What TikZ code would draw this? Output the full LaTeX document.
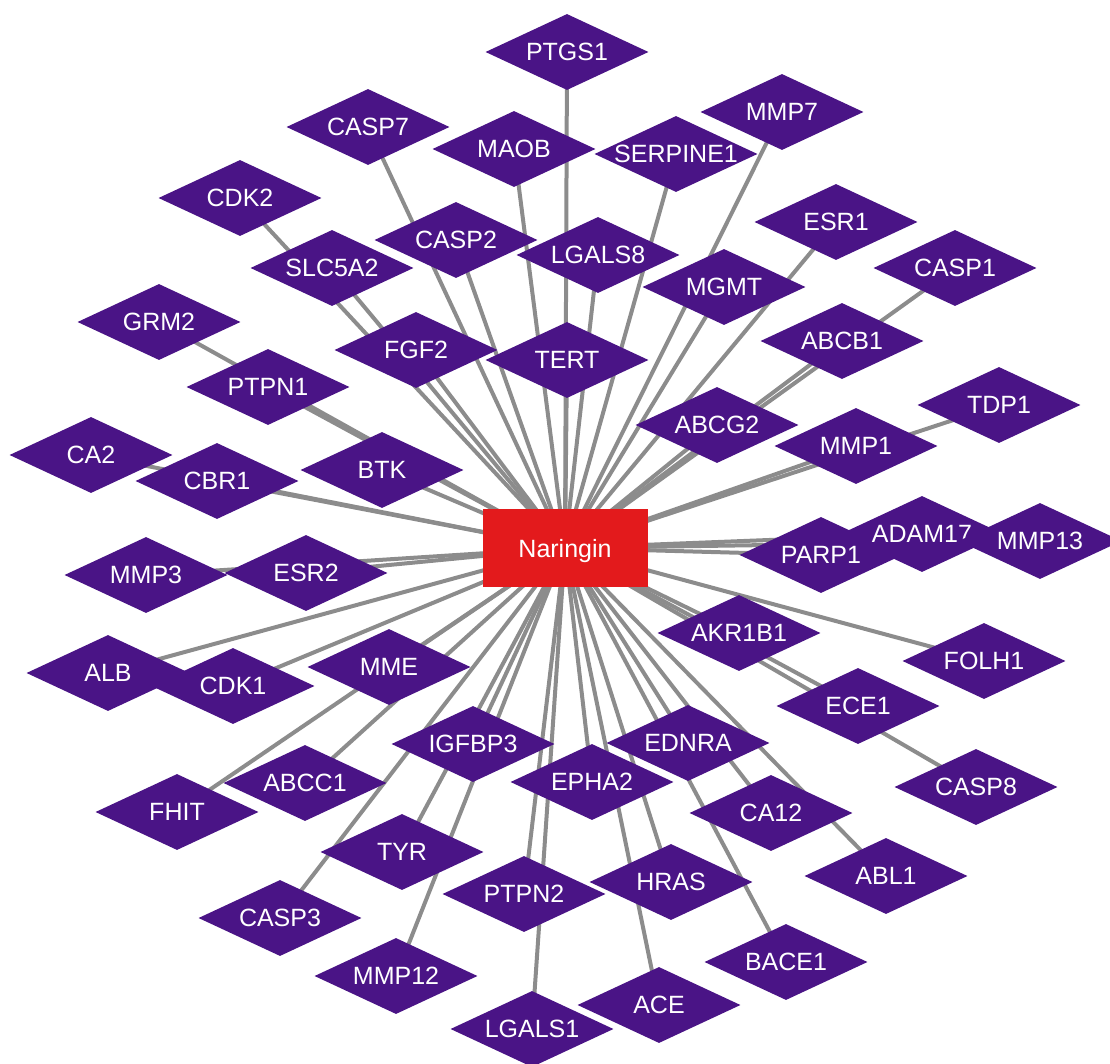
\documentclass[tikz,border=0pt]{standalone}
\usepackage{fontspec}
\setmainfont{Liberation Sans}
\usetikzlibrary{shapes.geometric}
\pgfdeclarelayer{background}
\pgfsetlayers{background,main}
\definecolor{genefill}{RGB}{74,20,134}
\definecolor{hubfill}{RGB}{227,26,28}
\definecolor{edgecol}{RGB}{140,140,140}
\tikzset{
  gene/.style={diamond, fill=genefill, draw=none, text=white, inner sep=0pt,
    aspect=2.14, minimum width=163pt, minimum height=76pt, text depth=0pt,
    font=\fontsize{25}{30}\selectfont},
  hub/.style={rectangle, fill=hubfill, draw=none, text=white, inner sep=0pt,
    minimum width=165pt, minimum height=78pt, text depth=0pt,
    font=\fontsize{25}{30}\selectfont},
  edge/.style={draw=edgecol, line width=4pt}
}
\begin{document}
\begin{tikzpicture}[x=1pt,y=-1pt]
\useasboundingbox (0,0) rectangle (1110,1064);
\node[hub] (nar) at (565,548) {Naringin};
\foreach \n/\x/\y in {
PTGS1/567/52, CASP7/368/127, MAOB/514/149, MMP7/782/112, SERPINE1/676/154,
CDK2/240/198, CASP2/456/240, LGALS8/598/255, ESR1/836/222, SLC5A2/332/268,
MGMT/724/287, CASP1/955/268, GRM2/159/322, FGF2/416/350, TERT/567/360,
ABCB1/842/341, PTPN1/268/387, TDP1/999/405, ABCG2/717/425, MMP1/856/446,
CA2/91/455, CBR1/217/481, BTK/382/470, PARP1/821/555, ADAM17/922/534,
MMP13/1040/541, MMP3/146/575, ESR2/306/573, AKR1B1/739/633, FOLH1/984/661,
ALB/108/673, CDK1/233/686, MME/389/667, ECE1/858/706, IGFBP3/473/744,
EDNRA/688/743, ABCC1/305/783, EPHA2/592/782, FHIT/177/812, CA12/771/813,
CASP8/976/787, TYR/402/852, HRAS/671/882, ABL1/886/876, PTPN2/524/894,
CASP3/280/918, BACE1/786/962, MMP12/396/976, ACE/659/1005, LGALS1/532/1029}
{
  \node[gene] (\n) at (\x,\y) {\n};
}
\begin{pgfonlayer}{background}
\foreach \n in {PTGS1, CASP7, MAOB, MMP7, SERPINE1, CDK2, CASP2, LGALS8, ESR1,
SLC5A2, MGMT, CASP1, GRM2, FGF2, TERT, ABCB1, PTPN1, TDP1, ABCG2, MMP1, CA2,
CBR1, BTK, PARP1, ADAM17, MMP13, MMP3, ESR2, AKR1B1, FOLH1, ALB, CDK1, MME,
ECE1, IGFBP3, EDNRA, ABCC1, EPHA2, FHIT, CA12, CASP8, TYR, HRAS, ABL1, PTPN2,
CASP3, BACE1, MMP12, ACE, LGALS1}
{
  \draw[edge] (nar.center) -- (\n.center);
}
\end{pgfonlayer}
\end{tikzpicture}
\end{document}
